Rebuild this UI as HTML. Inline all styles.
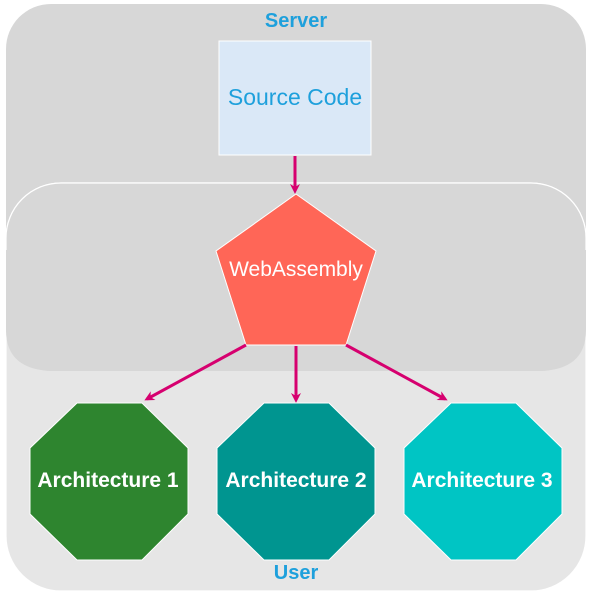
<!DOCTYPE html>
<html><head><style>body{margin:0;background:#fff}svg{display:block}</style></head><body>
<svg width="592" height="596" viewBox="0 0 592 596" xmlns="http://www.w3.org/2000/svg" font-family="'Liberation Sans',sans-serif">
<defs>
<marker id="a" markerWidth="10" markerHeight="10" refX="7" refY="5" orient="auto" markerUnits="userSpaceOnUse">
<path d="M0,0 L10,5 L0,10 L3,5 Z" fill="#d6006f"/></marker>
<clipPath id="c"><rect x="6" y="4" width="580" height="367" rx="45"/></clipPath>
</defs>
<rect x="6" y="4" width="580" height="367" rx="45" fill="#d7d7d7"/>
<rect x="6" y="183" width="580" height="408" rx="55" fill="#e6e6e6" stroke="#fff" stroke-width="1.2"/>
<g clip-path="url(#c)"><rect x="6" y="183" width="580" height="188" rx="55" fill="#d7d7d7" stroke="#fff" stroke-width="1.2"/>
<rect x="6" y="260" width="580" height="111" fill="#d7d7d7"/></g>
<path d="M6,250 L6,330 Q6,371 55,371 L537,371 Q586,371 586,330 L586,250" fill="#d7d7d7"/>
<text x="296" y="27" text-anchor="middle" font-size="20" font-weight="bold" fill="#1ea0dc">Server</text>
<text x="296" y="579" text-anchor="middle" font-size="20" font-weight="bold" fill="#1ea0dc">User</text>
<rect x="219" y="41" width="152" height="114" fill="#dae8f7" stroke="#fff"/>
<text x="295" y="105" text-anchor="middle" font-size="23" fill="#1ea0dc">Source Code</text>
<line x1="295" y1="156" x2="295" y2="191" stroke="#d6006f" stroke-width="3" marker-end="url(#a)"/>
<polygon points="296,194 376,251 346,345 246,345 216,251" fill="#ff6657" stroke="#fff"/>
<text x="296" y="276" text-anchor="middle" font-size="21" fill="#fff">WebAssembly</text>
<line x1="246" y1="345" x2="147" y2="399" stroke="#d6006f" stroke-width="3" marker-end="url(#a)"/>
<line x1="296" y1="346" x2="296" y2="400" stroke="#d6006f" stroke-width="3" marker-end="url(#a)"/>
<line x1="346" y1="345" x2="445" y2="399" stroke="#d6006f" stroke-width="3" marker-end="url(#a)"/>
<polygon points="77,403 142,403 188,448 188,514 142,560 77,560 30,514 30,448" fill="#2e852f" stroke="#fff"/>
<polygon points="264,403 329,403 375,448 375,514 329,560 264,560 217,514 217,448" fill="#009590" stroke="#fff"/>
<polygon points="451,403 516,403 562,448 562,514 516,560 451,560 404,514 404,448" fill="#00c5c4" stroke="#fff"/>
<g font-size="21" font-weight="bold" fill="#fff" text-anchor="middle">
<text x="108" y="487">Architecture 1</text>
<text x="296" y="487">Architecture 2</text>
<text x="482" y="487">Architecture 3</text>
</g>
</svg>
</body></html>
